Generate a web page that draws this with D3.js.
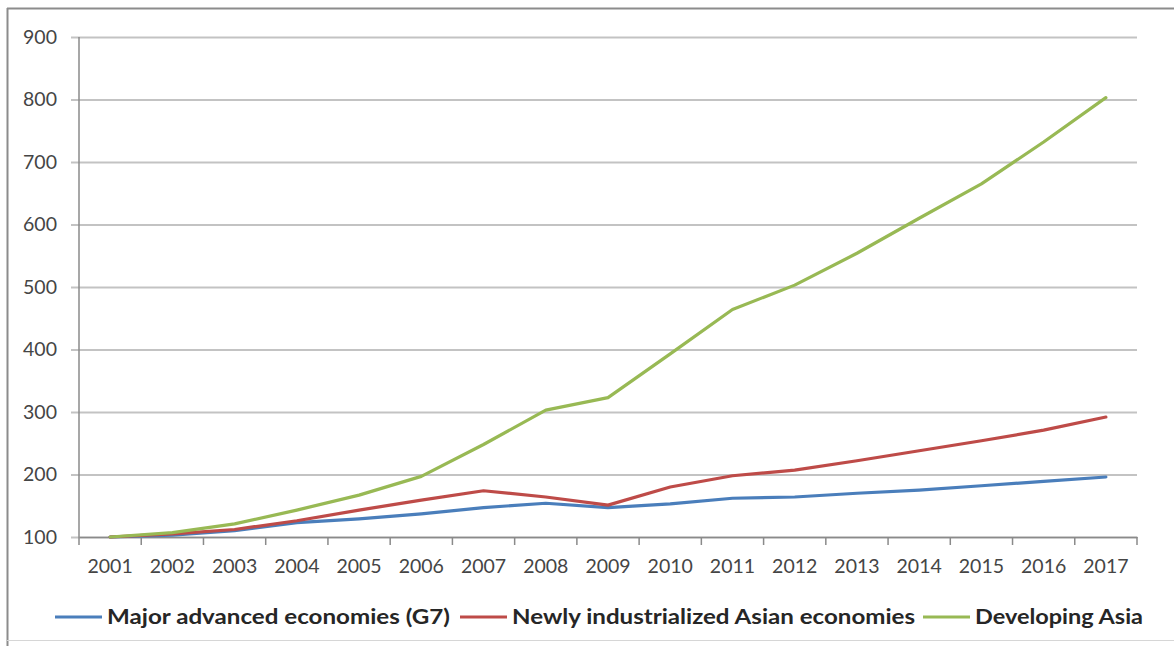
<!DOCTYPE html>
<html>
<head>
<meta charset="utf-8">
<script src="https://cdn.jsdelivr.net/npm/d3@7"></script>
<style>
  html, body { margin: 0; padding: 0; background: #fff; }
  svg { display: block; }
  text { font-family: Lato, "Open Sans", sans-serif; }
</style>
</head>
<body>
<svg id="chart" width="1174" height="646"></svg>
<script>
// Index values (2001 = 100)
const years = ["2001","2002","2003","2004","2005","2006","2007","2008","2009",
               "2010","2011","2012","2013","2014","2015","2016","2017"];
const g7Values       = [100,103,110,123,129,137,147,154,147,153,162,164,170,175,182,189,196];
const newlyAsiaValues = [100,105,112,126,143,159,174,164,151,180,198,207,222,238,254,271,292];
const devAsiaValues  = [100,107,121,143,167,197,248,303,323,393,464,503,554,610,665,732,803];
const yTicks = [100,200,300,400,500,600,700,800,900];

const seriesNames  = ["Major advanced economies (G7)", "Newly industrialized Asian economies", "Developing Asia"];
const seriesColors = ["#4a7ebb", "#be4b48", "#98b954"];
const seriesValues = [g7Values, newlyAsiaValues, devAsiaValues];

const svg = d3.select("#chart");
const margin = {left: 79, right: 1137, top: 37, bottom: 537};

// Outer chart frame (top and left edges, faint bottom edge)
svg.append("line").attr("x1", 7).attr("x2", 1174).attr("y1", 8.5).attr("y2", 8.5)
  .attr("stroke", "#8c8c8c").attr("stroke-width", 2);
svg.append("line").attr("x1", 7.5).attr("x2", 7.5).attr("y1", 8).attr("y2", 646)
  .attr("stroke", "#8c8c8c").attr("stroke-width", 2);
svg.append("line").attr("x1", 7).attr("x2", 1174).attr("y1", 640.5).attr("y2", 640.5)
  .attr("stroke", "#d6d6d6").attr("stroke-width", 1);

const x = d3.scaleBand().domain(years).range([margin.left, margin.right]).padding(0);
const y = d3.scaleLinear().domain([100, 900]).range([margin.bottom, margin.top]);

// Horizontal gridlines with short tick marks left of the axis
const yAxis = d3.axisLeft(y).tickValues(yTicks).tickSize(-(margin.right - margin.left)).tickPadding(14);
const gy = svg.append("g").attr("transform", `translate(${margin.left},0)`).call(yAxis);
gy.select(".domain").remove();
gy.selectAll(".tick line")
  .attr("x1", -8)
  .attr("stroke", "#c3c3c3").attr("stroke-width", 2);
gy.selectAll(".tick text")
  .attr("x", -22)
  .attr("fill", "#454545").style("font-size", "19.5px")
  .style("font-family", "Lato, sans-serif");

// Vertical axis line
svg.append("line")
  .attr("x1", margin.left).attr("x2", margin.left)
  .attr("y1", margin.top).attr("y2", margin.bottom)
  .attr("stroke", "#8a8a8a").attr("stroke-width", 1.5);

// Category axis: ticks sit on band boundaries, labels on band centres
const gx = svg.append("g").attr("transform", `translate(0,${margin.bottom})`)
  .call(d3.axisBottom(x).tickSize(0).tickPadding(22));
gx.select(".domain").attr("stroke", "#8a8a8a").attr("stroke-width", 1.5);
gx.selectAll(".tick text")
  .attr("fill", "#454545").style("font-size", "19.5px")
  .style("font-family", "Lato, sans-serif");
const boundaries = years.map(d => x(d)).concat([x(years[years.length - 1]) + x.bandwidth()]);
gx.selectAll("line.cat-tick").data(boundaries).enter().append("line")
  .attr("class", "cat-tick")
  .attr("x1", d => d).attr("x2", d => d)
  .attr("y1", 0).attr("y2", 8)
  .attr("stroke", "#8a8a8a").attr("stroke-width", 1.5);

// Series lines
const line = d3.line()
  .x((d, i) => x(years[i]) + x.bandwidth() / 2)
  .y(d => y(d));

seriesValues.forEach((vals, k) => {
  svg.append("path")
    .datum(vals)
    .attr("d", line)
    .attr("fill", "none")
    .attr("stroke", seriesColors[k])
    .attr("stroke-width", 3.2)
    .attr("stroke-linejoin", "round")
    .attr("stroke-linecap", "round");
});

// Legend
const legendY = 617;
const legendItems = [
  {x0: 55, x1: 102, tx: 107, w: 343},
  {x0: 460, x1: 507, tx: 512, w: 403},
  {x0: 923, x1: 970, tx: 975, w: 168}
];
legendItems.forEach((it, k) => {
  svg.append("line")
    .attr("x1", it.x0).attr("x2", it.x1)
    .attr("y1", legendY).attr("y2", legendY)
    .attr("stroke", seriesColors[k]).attr("stroke-width", 3.2);
  svg.append("text")
    .attr("x", it.tx).attr("y", legendY)
    .attr("dy", "0.35em")
    .attr("fill", "#262626")
    .attr("textLength", it.w)
    .attr("lengthAdjust", "spacingAndGlyphs")
    .style("font-size", "20.5px").style("font-weight", "bold")
    .text(seriesNames[k]);
});
</script>
</body>
</html>
